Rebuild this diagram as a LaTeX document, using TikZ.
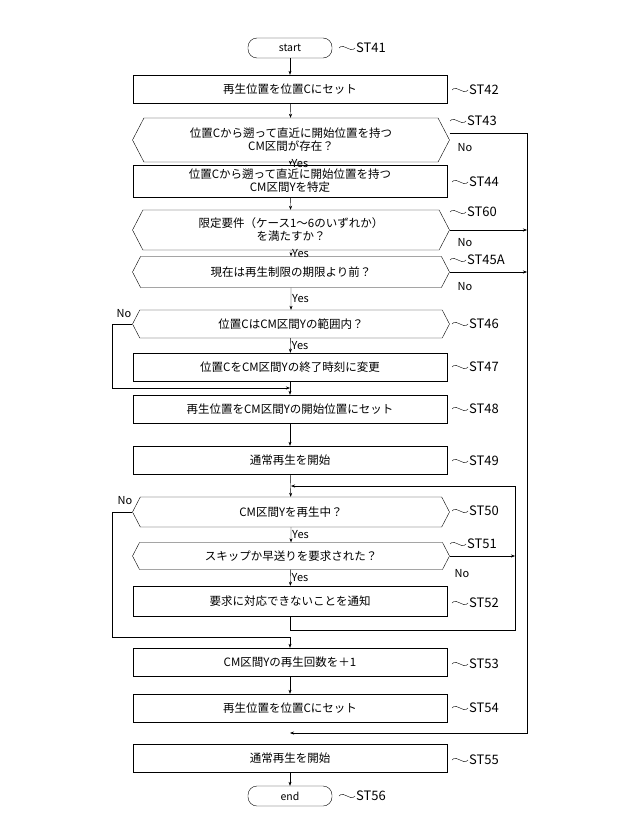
\documentclass[tikz,border=0pt]{standalone}
\usepackage{fontspec}
\setmainfont{Noto Sans CJK JP}
\usetikzlibrary{shapes.symbols,arrows.meta}

\tikzset{
    proc/.style = {
        draw,
        rectangle,
        minimum width=314pt,
        minimum height=28pt,
        inner ysep=1pt,
        align=center,
        font=\fontsize{11.5}{13}\selectfont
    },
    decide/.style = {
        draw,
        signal,
        signal to=west and east,
        signal pointer angle=125,
        minimum width=317pt,
        minimum height=30pt,
        inner xsep=0pt,
        inner ysep=1pt,
        align=center,
        font=\fontsize{11.5}{13}\selectfont
    },
    term/.style = {
        draw,
        rounded corners=9pt,
        minimum width=84pt,
        minimum height=20pt,
        font=\fontsize{10.5}{11}\selectfont
    },
    steplabel/.style = {
        anchor=west,
        inner sep=1pt,
        font=\fontsize{13}{14}\selectfont
    },
    answer/.style = {
        inner sep=1pt,
        font=\fontsize{11}{12}\selectfont
    },
    flow/.style = {
        -{Stealth[length=4pt,width=3pt]}
    },
    squig/.style = {
        thin
    }
}

\newcommand{\squigto}[1]{\draw[squig] (#1.west) .. controls +(-5,6) and +(5,-6) .. +(-16,0);}

\begin{document}
\begin{tikzpicture}[x=1pt,y=-1pt]
    \useasboundingbox (0,0) rectangle (640,827);

    % Draw all steps
    \node[term] (st41) at (290,48) {start};
    \node[proc] (st42) at (290,89) {再生位置を位置Cにセット};
    \node[decide, minimum height=44pt] (st43) at (291,140) {位置Cから遡って直近に開始位置を持つ\\CM区間が存在？};
    \node[proc, minimum height=32pt] (st44) at (290,181) {位置Cから遡って直近に開始位置を持つ\\CM区間Yを特定};
    \node[decide, minimum height=40pt] (st60) at (291,230) {限定要件（ケース1～6のいずれか）\\を満たすか？};
    \node[decide, minimum height=31pt] (st45) at (291,272) {現在は再生制限の期限より前？};
    \node[decide, minimum height=28pt] (st46) at (291,324) {位置CはCM区間Yの範囲内？};
    \node[proc] (st47) at (290,367) {位置CをCM区間Yの終了時刻に変更};
    \node[proc] (st48) at (290,409) {再生位置をCM区間Yの開始位置にセット};
    \node[proc] (st49) at (290,460) {通常再生を開始};
    \node[decide] (st50) at (291,512) {CM区間Yを再生中？};
    \node[decide, minimum height=27pt] (st51) at (291,556) {スキップか早送りを要求された？};
    \node[proc, minimum height=30pt] (st52) at (290,601) {要求に対応できないことを通知};
    \node[proc] (st53) at (290,662) {CM区間Yの再生回数を＋1};
    \node[proc] (st54) at (290,708) {再生位置を位置Cにセット};
    \node[proc] (st55) at (290,758) {通常再生を開始};
    \node[term] (st56) at (290,796) {end};

    % Draw step labels
    \node[steplabel] (l41) at (355,48) {ST41};
    \node[steplabel] (l42) at (468,90) {ST42};
    \node[steplabel] (l43) at (466,121) {ST43};
    \node[steplabel] (l44) at (468,182) {ST44};
    \node[steplabel] (l60) at (466,212) {ST60};
    \node[steplabel] (l45) at (466,260) {ST45A};
    \node[steplabel] (l46) at (468,324) {ST46};
    \node[steplabel] (l47) at (468,367) {ST47};
    \node[steplabel] (l48) at (468,409) {ST48};
    \node[steplabel] (l49) at (468,461) {ST49};
    \node[steplabel] (l50) at (468,511) {ST50};
    \node[steplabel] (l51) at (466,544) {ST51};
    \node[steplabel] (l52) at (468,603) {ST52};
    \node[steplabel] (l53) at (468,664) {ST53};
    \node[steplabel] (l54) at (468,708) {ST54};
    \node[steplabel] (l55) at (468,760) {ST55};
    \node[steplabel] (l56) at (355,796) {ST56};
    \foreach \l in {l41,l42,l43,l44,l60,l45,l46,l47,l48,l49,l50,l51,l52,l53,l54,l55,l56} {
        \squigto{\l}
    }

    % Draw main flow
    \draw[flow] (st41) -- (st42);
    \draw[flow] (st42) -- (st43);
    \draw[flow] (st43) -- node[answer, right] {Yes} (st44);
    \draw[flow] (st44) -- (st60);
    \draw[flow] (st60) -- node[answer, right] {Yes} (st45);
    \draw[flow] (st45) -- node[answer, right] {Yes} (st46);
    \draw[flow] (st46) -- node[answer, right] {Yes} (st47);
    \draw[flow] (st47) -- (st48);
    \draw[flow] (st48) -- (st49);
    \draw[flow] (st49) -- (st50);
    \draw[flow] (st50) -- node[answer, right] {Yes} (st51);
    \draw[flow] (st51) -- node[answer, right] {Yes} (st52);
    \draw[flow] (st53) -- (st54);
    \draw[flow] (st55) -- (st56);

    % Draw branches
    \coordinate (rail) at (527,133);
    \coordinate (loop) at (515,486);
    \draw[flow] (st43.east |- 0,133) -- (rail) -- (rail |- 0,733) -- (st55.north |- 0,733);
    \draw[flow] (st60.east) -- (rail |- st60.east);
    \draw[flow] (st45.east) -- (rail |- st45.east);
    \node[answer] at (465,148) {No};
    \node[answer] at (465,243) {No};
    \node[answer] at (465,287) {No};

    \draw[flow] (st46.west) -- (112,324) -- (112,388) -- (st48.north |- 0,388);
    \node[answer] at (124,314) {No};

    \draw[flow] (st52.south) -- (290,630) -- (loop |- 0,630) -- (loop) -- (st50.north |- loop);
    \draw[flow] (st51.east) -- (loop |- st51.east);
    \node[answer] at (462,574) {No};

    \draw[flow] (st50.west) -- (112,512) -- (112,637) -- (290,637) -- (st53);
    \node[answer] at (125,501) {No};
\end{tikzpicture}
\end{document}
